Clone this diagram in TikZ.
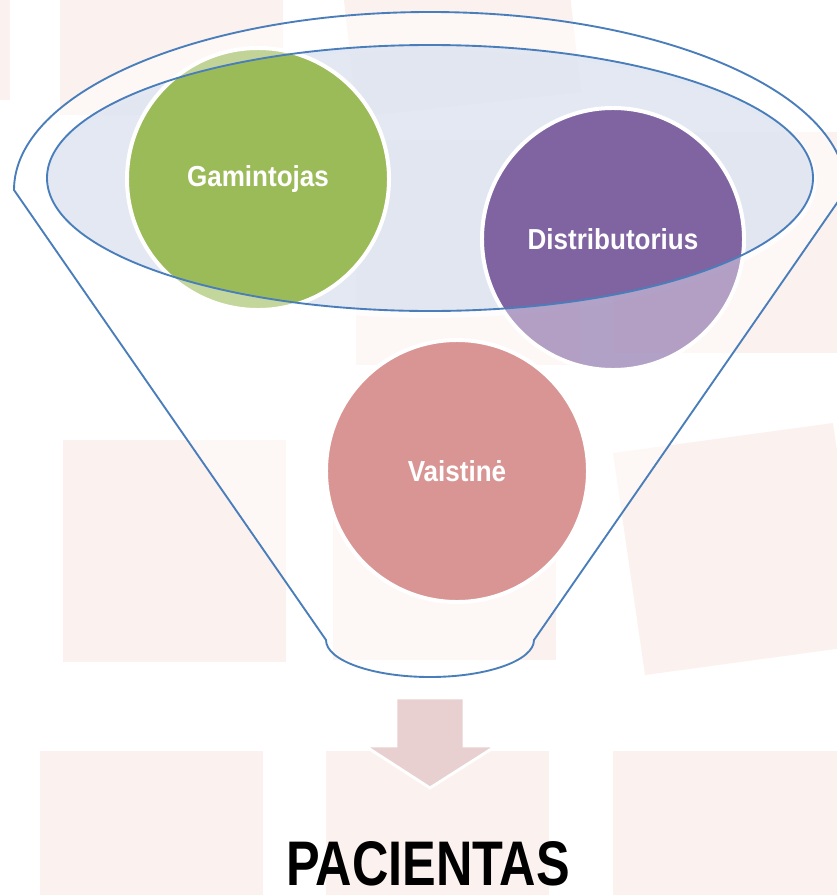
\documentclass[tikz,border=0pt]{standalone}
\usepackage{fontspec}
\newfontfamily\circlefont[FakeStretch=0.9]{Liberation Sans}
\newfontfamily\bigfont[FakeStretch=0.8]{Liberation Sans}
\definecolor{bgpink}{RGB}{251,241,238}
\definecolor{rimblue}{RGB}{74,126,187}
\definecolor{mouthfill}{RGB}{215,223,238}
\definecolor{gamgreen}{RGB}{155,187,89}
\definecolor{distpurple}{RGB}{128,100,162}
\definecolor{vaisrose}{RGB}{217,149,148}
\definecolor{arrowpink}{RGB}{232,208,209}

\begin{document}
\begin{tikzpicture}[x=0.03cm, y=-0.03cm,
  bgbox/.style={fill=bgpink},
  rim/.style={draw=rimblue, line width=1.6pt},
  ball/.style={circle, minimum size=7.86cm, inner sep=0pt, draw=white,
    line width=3.4pt, text=white,
    font=\circlefont\bfseries\fontsize{24.7}{30}\selectfont}]

\useasboundingbox (0,0) rectangle (836,895);

% pale squares behind
\foreach \xa/\ya/\xb/\yb in {
	-200/-100/10/100,
	60/-120/283/115,
	356/140/580/365,
	613/132/850/353,
	63/440/286/662,
	333/440/556/660,
	40/751/263/900,
	326/751/549/900,
	613/751/850/900}
\fill[bgbox] (\xa, \ya) rectangle (\xb, \yb);
\fill[bgbox] (357, 117) -- (581, 92) -- (556, -132) -- (332, -107) -- cycle;
\fill[bgbox] (613, 453) -- (833, 423) -- (865, 645) -- (645, 675) -- cycle;

% funnel
\filldraw[rim, fill=white, fill opacity=0.5] (14, 190) -- (326, 640)
	arc[start angle=180, end angle=0, x radius=104, y radius=37]
	-- (846, 190)
	arc[start angle=0, end angle=-180, x radius=416, y radius=178] -- cycle;
\draw[white, opacity=0.7, line width=5pt] (430, 181) ellipse (384 and 134);
\fill[mouthfill, opacity=0.7] (430, 178) ellipse (383 and 133);

\coordinate (gamc) at (258, 179);
\coordinate (distc) at (613, 239);
\coordinate (vaisc) at (457, 471);

\fill[gamgreen, opacity=0.6] (gamc) circle (131);
\fill[distpurple, opacity=0.6] (distc) circle (131);
\begin{scope}
\clip (430, 178) ellipse (383 and 133);
\fill[gamgreen] (gamc) circle (131);
\fill[distpurple] (distc) circle (131);
\end{scope}
\fill[vaisrose] (vaisc) circle (131);

\node[ball] (gam) at (gamc) {Gamintojas};
\node[ball] (dist) at (distc) {Distributorius};
\node[ball] (vais) at (vaisc) {Vaistinė};

\draw[rim] (430, 178) ellipse (383 and 133);

% arrow down to the patient
\coordinate (arrowtip) at (430, 788);
\filldraw[fill=arrowpink, draw=white, line width=2.5pt, line join=miter]
	(396, 698) -- (464, 698) -- (464, 746) -- (496, 746) -- (arrowtip)
	-- (365, 746) -- (396, 746) -- cycle;
\node[anchor=base, inner sep=0pt, font=\bigfont\bfseries\fontsize{53.8}{60}\selectfont]
	(patient) at (428, 885) {PACIENTAS};

\end{tikzpicture}
\end{document}
